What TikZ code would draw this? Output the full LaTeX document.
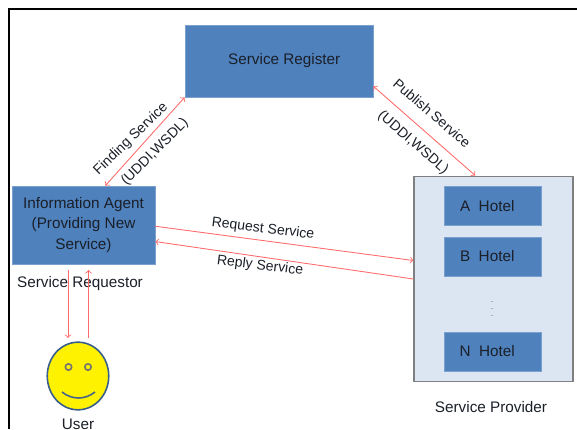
\documentclass[tikz,border=0pt]{standalone}
\usepackage{fontspec}
\usetikzlibrary{shapes.geometric}
\setmainfont{Liberation Sans}
\definecolor{boxblue}{HTML}{4F81BD}
\definecolor{paleblue}{HTML}{DCE6F2}
\definecolor{linkred}{HTML}{FF6B6B}
\definecolor{inkdark}{HTML}{1A1F28}
\definecolor{faceline}{HTML}{385D8A}
\tikzset{
	blue box/.style={draw=boxblue!75!white,fill=boxblue,text=inkdark,inner sep=0pt,align=center,font=\fontsize{8.7}{11.6}\selectfont},
	hotel box/.style={blue box,minimum width=55.2pt,minimum height=22.2pt},
	tag/.style={text=inkdark,inner sep=0pt,font=\fontsize{8.7}{11}\selectfont},
	slant tag/.style={tag,font=\fontsize{8}{10}\selectfont},
	link/.style={draw=linkred,line width=0.5pt,>=to}
}
\begin{document}
\begin{tikzpicture}[x=0.02cm,y=-0.02cm]
		\useasboundingbox (0,0) rectangle (577,429);
		\draw[line width=1.4pt] (9,429) -- (9,9) -- (577,9);
		\node[blue box,minimum width=107pt,minimum height=41pt] (register) at (279,61) {\hspace*{6pt}Service Register};
		\node[blue box,minimum width=81.3pt,minimum height=44.4pt] (agent) at (83.5,225) {Information Agent\\(Providing New\\Service)};
		\node[draw=gray,fill=paleblue,line width=0.6pt,minimum width=90.5pt,minimum height=117.2pt,inner sep=0pt] (provider) at (493.5,279) {};
		\node[hotel box] (hotelA) at (492.5,206) {A~~Hotel\hspace*{6pt}};
		\node[hotel box] (hotelB) at (492.5,256.5) {B~~Hotel\hspace*{6pt}};
		\node[tag,text=gray!70!black,font=\fontsize{5}{6}\selectfont] (dots) at (492,304) {$\vdots$};
		\node[hotel box] (hotelN) at (492.5,351.5) {N~~Hotel\hspace*{6pt}};
		\node[draw=faceline,fill=yellow,ellipse,line width=0.9pt,minimum width=35pt,minimum height=38.5pt,inner sep=0pt] (user) at (78,376) {};
		\draw[draw=gray!90!black,fill=none,line width=0.9pt] (68.5,367) circle (3.2) (88,367) circle (3.2);
		\draw[draw=faceline!80!gray,line width=0.9pt] (62,392) .. controls (72,400) and (85,400) .. (95,392);
		\node[tag] (requestor) at (80,284) {Service Requestor};
		\node[tag] (userlabel) at (78,424) {User};
		\node[tag] (providerlabel) at (491,407) {Service Provider};
		\coordinate (downstart) at (68,270);
		\coordinate (downend) at (68,338);
		\coordinate (upstart) at (88.5,338);
		\coordinate (upend) at (88.5,270);
		\draw[link,<->] (agent.61) -- (register.south west);
		\draw[link,<->] (register.-15) -- (provider.100);
		\draw[link,->] (agent.-1) -- (provider.167);
		\draw[link,->] (provider.180) -- (agent.-13);
		\draw[link,->] (downstart) -- (downend);
		\draw[link,->] (upstart) -- (upend);
		\node[slant tag,rotate=44] (findlabel) at (131,139) {Finding Service};
		\node[slant tag,rotate=45] (finduddi) at (155,152) {(UDDI,WSDL)};
		\node[slant tag,rotate=-41] (publishlabel) at (432,113) {Publish Service};
		\node[slant tag,rotate=-41] (publishuddi) at (413,143) {(UDDI,WSDL)};
		\node[slant tag,rotate=-7] (requestlabel) at (263,229) {Request Service};
		\node[slant tag,rotate=-7] (replylabel) at (260,266) {Reply Service};
		\end{tikzpicture}
\end{document}
